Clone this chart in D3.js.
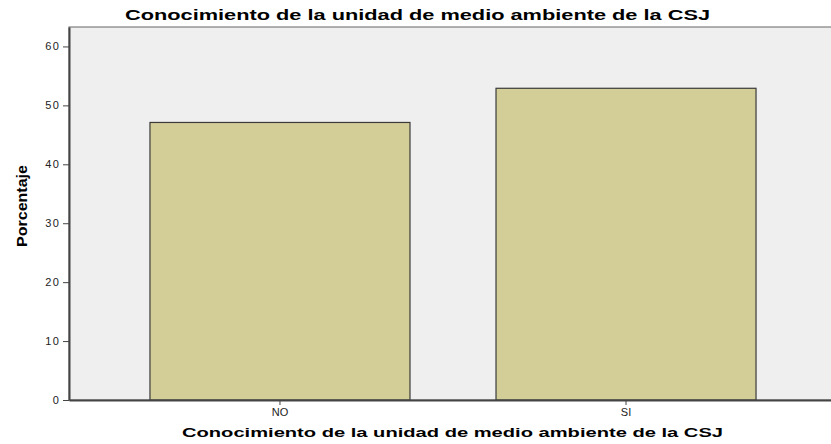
<!DOCTYPE html>
<html><head><meta charset="utf-8">
<script src="https://cdn.jsdelivr.net/npm/d3@7"></script>
<style>body{margin:0;background:#fff}svg{display:block}</style>
</head><body><svg id="c" width="831" height="444"></svg>
<script>
const categories = ["NO", "SI"];
const values = [47.1, 52.9];
const yTicks = [0, 10, 20, 30, 40, 50, 60];
const title = "Conocimiento de la unidad de medio ambiente de la CSJ";
const xLabel = "Conocimiento de la unidad de medio ambiente de la CSJ";
const yLabel = "Porcentaje";

const svg = d3.select("#c");
const W = 831, H = 444;
const m = {left: 69, top: 27, bottom: 400};
const x = d3.scaleBand().domain(categories).range([m.left, 837]).paddingInner(0.2486).paddingOuter(0.234);
const y = d3.scaleLinear().domain([0, 63.3]).range([m.bottom, m.top]);
const font = "Liberation Sans, Arial, sans-serif";

svg.append("rect").attr("x", m.left).attr("y", m.top).attr("width", W - m.left + 5).attr("height", m.bottom - m.top)
  .attr("fill", "#efefef").attr("stroke", "#666").attr("stroke-width", 1);

svg.selectAll("rect.bar").data(values).enter().append("rect").attr("class", "bar")
  .attr("x", (d, i) => x(categories[i])).attr("width", x.bandwidth())
  .attr("y", d => y(d)).attr("height", d => y(0) - y(d))
  .attr("fill", "#d3ce97").attr("stroke", "#3a3a3a").attr("stroke-width", 1.2);

const ya = svg.append("g").attr("transform", `translate(${m.left},0)`)
  .call(d3.axisLeft(y).tickValues(yTicks).tickSize(6).tickPadding(3).tickSizeOuter(0));
ya.select(".domain").attr("stroke", "#444").attr("stroke-width", 2);
ya.selectAll(".tick line").attr("stroke", "#444");
ya.selectAll("text").attr("font-family", font).attr("font-size", 11).attr("fill", "#222").attr("letter-spacing", 1.2);

const xa = svg.append("g").attr("transform", `translate(0,${m.bottom})`)
  .call(d3.axisBottom(x).tickSize(5).tickPadding(3).tickSizeOuter(0));
xa.select(".domain").attr("stroke", "#444").attr("stroke-width", 2);
xa.selectAll(".tick line").attr("stroke", "#444");
xa.selectAll("text").attr("font-family", font).attr("font-size", 11).attr("fill", "#222");

svg.append("text").attr("x", 125).attr("y", 20)
  .attr("font-family", font).attr("font-weight", "bold").attr("font-size", 14)
  .attr("textLength", 585).attr("lengthAdjust", "spacingAndGlyphs").text(title);
svg.append("text").attr("x", 182).attr("y", 437)
  .attr("font-family", font).attr("font-weight", "bold").attr("font-size", 13)
  .attr("textLength", 541).attr("lengthAdjust", "spacingAndGlyphs").text(xLabel);
svg.append("text").attr("transform", "translate(27,247) rotate(-90)")
  .attr("font-family", font).attr("font-weight", "bold").attr("font-size", 15)
  .attr("textLength", 82).attr("lengthAdjust", "spacingAndGlyphs")
  .text(yLabel);
</script></body></html>
